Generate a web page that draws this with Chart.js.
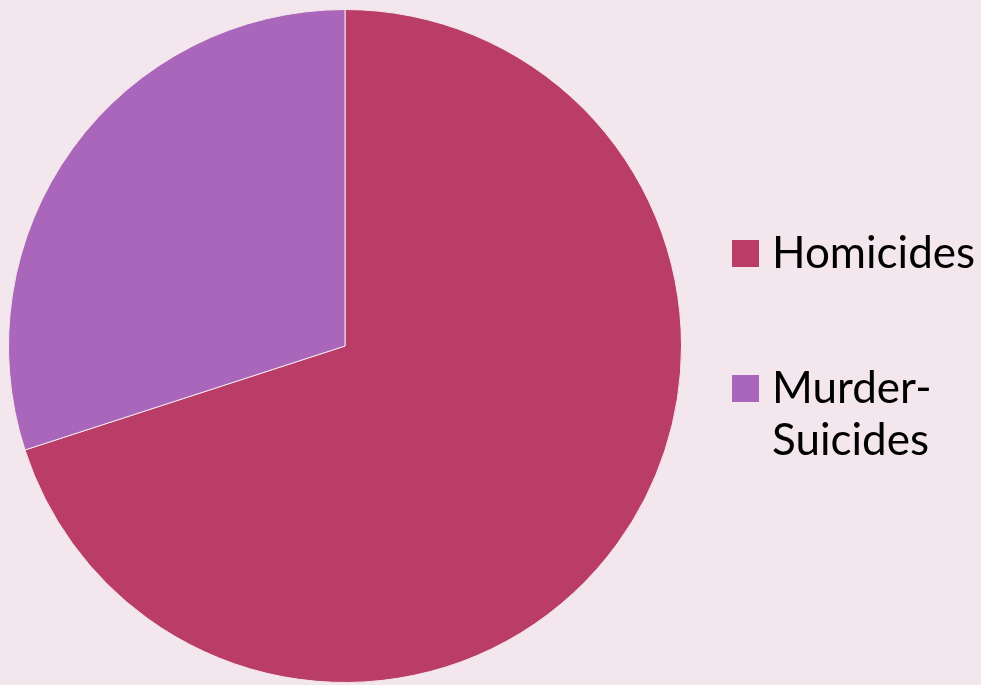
<!DOCTYPE html>
<html lang="en">
<head>
  <meta charset="UTF-8" />
  <title>Homicides vs Murder-Suicides</title>
  <script src="https://cdn.jsdelivr.net/npm/chart.js"></script>
  <style>
    html, body {
      margin: 0;
      padding: 0;
      background: #f3e6ec;
      width: 981px;
      height: 685px;
      overflow: hidden;
    }
    #wrap {
      position: relative;
      width: 981px;
      height: 685px;
    }
    #legend {
      position: absolute;
      left: 732px;
      top: 225px;
      font-family: 'Lato', sans-serif;
      font-size: 44px;
      line-height: 52px;
      color: #000;
    }
    .item {
      position: relative;
      padding-left: 40px;
      margin-bottom: 83px;
    }
    .swatch {
      position: absolute;
      left: 0;
      top: 15px;
      width: 27px;
      height: 27px;
    }
  </style>
</head>
<body>
  <div id="wrap">
    <canvas id="pie"></canvas>
    <div id="legend"></div>
  </div>

  <script>
    const categories = ['Homicides', 'Murder-Suicides'];
    const legendLines = [['Homicides'], ['Murder-', 'Suicides']];
    const values = [70, 30];
    const colors = ['#b93d67', '#a966ba'];

    const ctx = document.getElementById('pie').getContext('2d');
    const chart = new Chart(ctx, {
      type: 'pie',
      data: {
        labels: categories,
        datasets: [{
          data: values,
          backgroundColor: colors,
          borderColor: '#f3e6ec',
          borderWidth: 1
        }]
      },
      options: {
        responsive: true,
        maintainAspectRatio: false,
        animation: false,
        layout: {
          padding: { left: 0, right: 291, top: 9, bottom: 2 }
        },
        plugins: {
          legend: { display: false },
          tooltip: { enabled: false }
        }
      }
    });

    // html legend, built from the same arrays
    const legend = document.getElementById('legend');
    categories.forEach((c, i) => {
      const item = document.createElement('div');
      item.className = 'item';
      const sw = document.createElement('span');
      sw.className = 'swatch';
      sw.style.background = colors[i];
      item.appendChild(sw);
      item.insertAdjacentHTML('beforeend', legendLines[i].join('<br>'));
      legend.appendChild(item);
    });
  </script>
</body>
</html>
